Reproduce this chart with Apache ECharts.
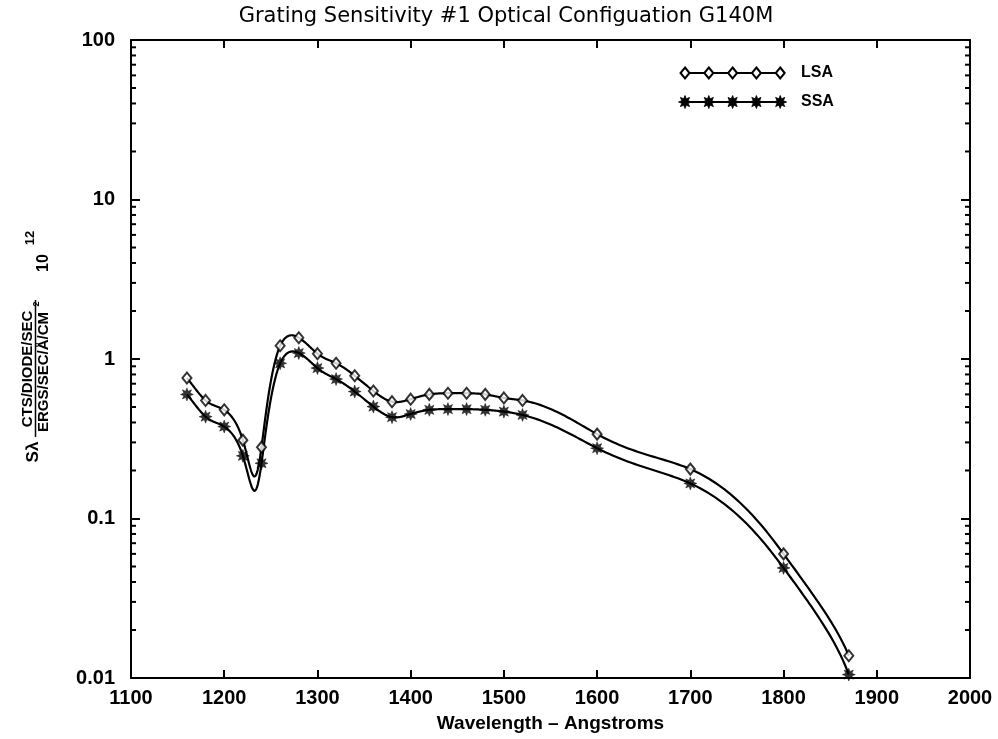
<!DOCTYPE html>
<html>
<head>
<meta charset="utf-8">
<script src="https://cdn.jsdelivr.net/npm/echarts@6/dist/echarts.min.js"></script>
<style>
html,body{margin:0;padding:0;background:#fff;}
#chart{width:998px;height:739px;}
</style>
</head>
<body>
<div id="chart"></div>
<script>
// ---- data ----
const wavelengths = [1160,1180,1200,1220,1240,1260,1280,1300,1320,1340,1360,1380,1400,1420,1440,1460,1480,1500,1520,1600,1700,1800,1870];
const lsaValues = [0.76,0.55,0.48,0.31,0.28,1.21,1.36,1.08,0.94,0.785,0.63,0.54,0.56,0.60,0.61,0.61,0.60,0.57,0.55,0.338,0.204,0.060,0.0138];
const ssaValues = [0.60,0.435,0.377,0.247,0.222,0.94,1.09,0.877,0.748,0.625,0.503,0.432,0.452,0.48,0.485,0.485,0.48,0.468,0.446,0.276,0.166,0.049,0.0105];
const xTicks = [1100,1200,1300,1400,1500,1600,1700,1800,1900,2000];
const yTickLabels = ['0.01','0.1','1','10','100'];
const minorTickValues = [0.02,0.03,0.04,0.05,0.06,0.07,0.08,0.09,0.2,0.3,0.4,0.5,0.6,0.7,0.8,0.9,2,3,4,5,6,7,8,9,20,30,40,50,60,70,80,90];
const seriesNames = ['LSA','SSA'];
const titleText = 'Grating Sensitivity #1 Optical Configuation G140M';
const xName = 'Wavelength \u2013 Angstroms';

// ---- helpers ----
function starPoints(cx, cy, r1, r2, n){
  const pts=[];
  for(let k=0;k<2*n;k++){
    const a = Math.PI*k/n - Math.PI/2;
    const r = k%2===0 ? r1 : r2;
    pts.push([cx + r*Math.cos(a), cy + r*Math.sin(a)]);
  }
  return pts;
}
const starPath = 'path://' + starPoints(50,50,50,26,8).map((p,i)=>(i?'L':'M')+p[0].toFixed(2)+' '+p[1].toFixed(2)).join(' ') + ' Z';

function naturalSpline(xs, ys){
  const n = xs.length;
  const h=[], al=[], l=[1], mu=[0], z=[0], c=new Array(n).fill(0), b=[], d=[];
  for(let i=0;i<n-1;i++) h.push(xs[i+1]-xs[i]);
  for(let i=1;i<n-1;i++) al[i] = 3/h[i]*(ys[i+1]-ys[i]) - 3/h[i-1]*(ys[i]-ys[i-1]);
  for(let i=1;i<n-1;i++){
    l[i] = 2*(xs[i+1]-xs[i-1]) - h[i-1]*mu[i-1];
    mu[i] = h[i]/l[i];
    z[i] = (al[i]-h[i-1]*z[i-1])/l[i];
  }
  l[n-1]=1; z[n-1]=0; c[n-1]=0;
  for(let j=n-2;j>=0;j--){
    c[j] = z[j]-mu[j]*c[j+1];
    b[j] = (ys[j+1]-ys[j])/h[j] - h[j]*(c[j+1]+2*c[j])/3;
    d[j] = (c[j+1]-c[j])/(3*h[j]);
  }
  return function(x){
    let j = 0;
    while(j<n-2 && x>xs[j+1]) j++;
    const dx = x-xs[j];
    return ys[j] + b[j]*dx + c[j]*dx*dx + d[j]*dx*dx*dx;
  };
}

// smooth curve through the points (spline of the values), mapped through the chart's axes
function curveSeries(values){
  return {
    type:'custom',
    silent:true,
    clip:false,
    z:2,
    data: wavelengths.map((w,i)=>[w, values[i]]),
    renderItem: function(params, api){
      if(params.dataIndex!==0) return null;
      const f = naturalSpline(wavelengths, values);
      const pts=[];
      for(let i=0;i<wavelengths.length-1;i++){
        const steps=30;
        for(let s=0;s<steps;s++){
          const x = wavelengths[i] + (wavelengths[i+1]-wavelengths[i])*s/steps;
          pts.push(api.coord([x, Math.max(f(x), 0.005)]));
        }
      }
      const last = wavelengths.length-1;
      pts.push(api.coord([wavelengths[last], values[last]]));
      return {type:'polyline', shape:{points:pts}, style:{stroke:'#000', lineWidth:2.2, fill:null}};
    }
  };
}

const chart = echarts.init(document.getElementById('chart'), null, {renderer:'canvas'});
const labelFont = {fontFamily:'Liberation Sans, Arial, sans-serif', fontWeight:'bold', fontSize:20, color:'#000'};

// legend graphics
function legendRow(y, name, isStar){
  const els = [{type:'line', shape:{x1:684,y1:y,x2:780,y2:y}, style:{stroke:'#000', lineWidth:2}}];
  for(let k=0;k<5;k++){
    const cx = 685 + k*23.8;
    if(isStar){
      els.push({type:'polygon', shape:{points:starPoints(cx,y,6.5,3.4,8)}, style:{fill:'#000', stroke:'#000', lineWidth:0.8}});
    } else {
      els.push({type:'polygon', shape:{points:[[cx,y-5.5],[cx+4.5,y],[cx,y+5.5],[cx-4.5,y]]}, style:{fill:'#fff', stroke:'#000', lineWidth:2}});
    }
  }
  els.push({type:'text', x:801, y:y, style:{text:name, fontFamily:'Liberation Sans, Arial, sans-serif', fontWeight:'bold', fontSize:16, fill:'#000', verticalAlign:'middle'}});
  return els;
}

const yNameFont = {fontFamily:'Liberation Sans Narrow, Liberation Sans, Arial, sans-serif', fontWeight:'bold', fontSize:15, fill:'#000'};

const option = {
  backgroundColor:'#fff',
  animation:false,
  grid:{left:131, right:28, top:40, bottom:61, show:false, containLabel:false, outerBoundsMode:'none'},
  xAxis:[{
    type:'value', min:1100, max:2000, interval:100,
    name:xName, nameLocation:'middle', nameGap:36,
    nameTextStyle:{fontFamily:'Liberation Sans, Arial, sans-serif', fontWeight:'bold', fontSize:19, color:'#000'},
    axisLine:{show:true, onZero:false, lineStyle:{color:'#000', width:2}},
    axisTick:{show:true, inside:true, length:8, lineStyle:{color:'#000', width:2}},
    axisLabel:Object.assign({margin:10, formatter:function(v){return xTicks.indexOf(v)>=0 ? String(v) : '';}}, labelFont),
    splitLine:{show:false}
  },{
    type:'value', min:1100, max:2000, interval:100, position:'top',
    axisLine:{show:true, onZero:false, lineStyle:{color:'#000', width:2}},
    axisTick:{show:true, inside:true, length:8, lineStyle:{color:'#000', width:2}},
    axisLabel:{show:false}, splitLine:{show:false}
  }],
  yAxis:[{
    type:'log', logBase:10, min:0.01, max:100,
    axisLine:{show:true, onZero:false, lineStyle:{color:'#000', width:2}},
    axisTick:{show:true, inside:true, length:9, lineStyle:{color:'#000', width:2}},
    axisLabel:Object.assign({margin:16, formatter:function(v){
      const s = yTickLabels.find(t=>Math.abs(parseFloat(t)-v)/v<1e-6);
      return s || '';
    }}, labelFont),
    splitLine:{show:false}, minorTick:{show:false}
  },{
    type:'log', logBase:10, min:0.01, max:100, position:'right',
    axisLine:{show:true, onZero:false, lineStyle:{color:'#000', width:2}},
    axisTick:{show:true, inside:true, length:9, lineStyle:{color:'#000', width:2}},
    axisLabel:{show:false}, splitLine:{show:false}
  }],
  graphic:[
    {type:'text', x:506, y:17, style:{text:titleText, fontFamily:'DejaVu Sans, sans-serif', fontSize:21, fill:'#000', align:'center', verticalAlign:'middle'}},
    // y axis name (rotated)
    {type:'text', x:33, y:452, rotation:Math.PI/2, style:{text:'S\u03bb', fontFamily:'Liberation Sans, Arial, sans-serif', fontWeight:'bold', fontSize:17, fill:'#000', align:'center', verticalAlign:'middle'}},
    {type:'text', x:28, y:369, rotation:Math.PI/2, style:Object.assign({text:'CTS/DIODE/SEC', align:'center', verticalAlign:'middle'}, yNameFont)},
    {type:'line', shape:{x1:35.5, y1:300, x2:35.5, y2:437}, style:{stroke:'#000', lineWidth:1.5}},
    {type:'text', x:43.5, y:372, rotation:Math.PI/2, style:Object.assign({text:'ERGS/SEC/\u00c5/CM', align:'center', verticalAlign:'middle'}, yNameFont)},
    {type:'text', x:37, y:304, rotation:Math.PI/2, style:{text:'2', fontFamily:'Liberation Sans, Arial, sans-serif', fontWeight:'bold', fontSize:9, fill:'#000', align:'center', verticalAlign:'middle'}},
    {type:'text', x:44, y:263, rotation:Math.PI/2, style:{text:'10', fontFamily:'Liberation Sans, Arial, sans-serif', fontWeight:'bold', fontSize:16, fill:'#000', align:'center', verticalAlign:'middle'}},
    {type:'text', x:30, y:238, rotation:Math.PI/2, style:{text:'12', fontFamily:'Liberation Sans, Arial, sans-serif', fontWeight:'bold', fontSize:13, fill:'#000', align:'center', verticalAlign:'middle'}}
  ].concat(legendRow(73, seriesNames[0], false)).concat(legendRow(102, seriesNames[1], true)),
  series:[
    // minor log ticks on left and right edges
    {
      type:'custom', silent:true, clip:false, z:1,
      data: minorTickValues.map(v=>[1100, v]),
      renderItem:function(params, api){
        const v = api.value(1);
        const p = api.coord([1100, v]);
        const q = api.coord([2000, v]);
        return {type:'group', children:[
          {type:'line', shape:{x1:p[0], y1:p[1], x2:p[0]+5, y2:p[1]}, style:{stroke:'#000', lineWidth:2}},
          {type:'line', shape:{x1:q[0]-5, y1:q[1], x2:q[0], y2:q[1]}, style:{stroke:'#000', lineWidth:2}}
        ]};
      }
    },
    curveSeries(lsaValues),
    curveSeries(ssaValues),
    {
      name:seriesNames[0], type:'scatter', z:5,
      data: wavelengths.map((w,i)=>[w, lsaValues[i]]),
      symbol:'diamond', symbolSize:[9,11],
      itemStyle:{color:'#fff', borderColor:'#000', borderWidth:2}
    },
    {
      name:seriesNames[1], type:'scatter', z:5,
      data: wavelengths.map((w,i)=>[w, ssaValues[i]]),
      symbol:starPath, symbolSize:13,
      itemStyle:{color:'#000', borderColor:'#000', borderWidth:0.5}
    }
  ]
};
chart.setOption(option);
</script>
</body>
</html>
